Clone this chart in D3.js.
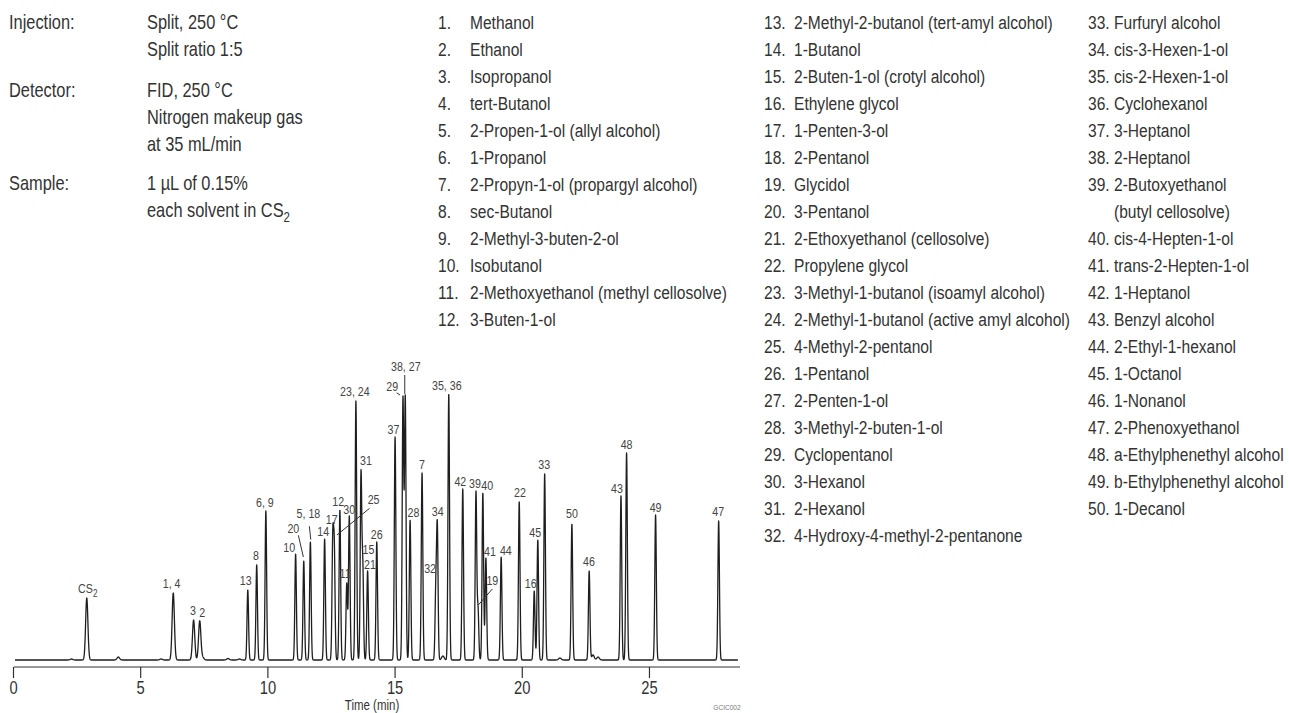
<!DOCTYPE html>
<html><head><meta charset="utf-8">
<script src="https://cdn.jsdelivr.net/npm/d3@7"></script>
<style>
body{margin:0;background:#fff;}
svg{display:block;font-family:'Liberation Sans',Arial,sans-serif;}
</style></head><body>
<svg id="chart" width="1289" height="713"></svg>
<script>
// ---------------- DATA ----------------
const peakLabels = ["CS2","1, 4","3","2","13","8","6, 9","10","20","5, 18","14","17","25","12","11","30","23, 24","31","15","21","26","37","29","38, 27","28","7","32","34","35, 36","42","39","19","40","41","44","22","16","45","33","50","46","43","48","49","47"];
const peakTimes  = [2.90,6.30,7.10,7.34,9.23,9.58,9.94,11.11,11.43,11.69,12.25,12.57,12.63,12.85,13.12,13.22,13.48,13.68,13.75,13.94,14.30,15.02,15.33,15.42,15.61,16.08,16.62,16.68,17.13,17.68,18.20,18.28,18.47,18.59,19.19,19.90,20.49,20.63,20.90,21.97,22.65,23.90,24.12,25.26,27.74];
const peakHeights= [62,67,40,39,70,95,149,106,99,118,121,131,122,150,77,144,259,190,103,89,118,223,264,265,140,187,83,139,266,171,169,55,167,102,103,158,69,120,186,136,89,164,207,145,139];
const minorTimes   = [2.3,4.14,5.82,7.45,8.45,8.9,16.9,21.5,22.8,23.0];
const minorHeights = [1,3,1,3,1.5,1,4,2,5,3];
const xTicks = [0,5,10,15,20,25];
const compoundNames = ["Methanol","Ethanol","Isopropanol","tert-Butanol","2-Propen-1-ol (allyl alcohol)","1-Propanol","2-Propyn-1-ol (propargyl alcohol)","sec-Butanol","2-Methyl-3-buten-2-ol","Isobutanol","2-Methoxyethanol (methyl cellosolve)","3-Buten-1-ol","2-Methyl-2-butanol (tert-amyl alcohol)","1-Butanol","2-Buten-1-ol (crotyl alcohol)","Ethylene glycol","1-Penten-3-ol","2-Pentanol","Glycidol","3-Pentanol","2-Ethoxyethanol (cellosolve)","Propylene glycol","3-Methyl-1-butanol (isoamyl alcohol)","2-Methyl-1-butanol (active amyl alcohol)","4-Methyl-2-pentanol","1-Pentanol","2-Penten-1-ol","3-Methyl-2-buten-1-ol","Cyclopentanol","3-Hexanol","2-Hexanol","4-Hydroxy-4-methyl-2-pentanone","Furfuryl alcohol","cis-3-Hexen-1-ol","cis-2-Hexen-1-ol","Cyclohexanol","3-Heptanol","2-Heptanol","2-Butoxyethanol\n(butyl cellosolve)","cis-4-Hepten-1-ol","trans-2-Hepten-1-ol","1-Heptanol","Benzyl alcohol","2-Ethyl-1-hexanol","1-Octanol","1-Nonanol","2-Phenoxyethanol","a-Ethylphenethyl alcohol","b-Ethylphenethyl alcohol","1-Decanol"];
const conditionKeys = ["Injection:","Detector:","Sample:"];
const conditionValues = [["Split, 250 °C","Split ratio 1:5"],["FID, 250 °C","Nitrogen makeup gas","at 35 mL/min"],["1 µL of 0.15%","each solvent in CS|2"]];
const xTitle = "Time (min)";
const figCode = "GCIC002";

// ---------------- LAYOUT ----------------
const NARROW = 0.82;
const x = d3.scaleLinear().domain([0,28.5]).range([13,738]);
const y = d3.scaleLinear().domain([0,300]).range([660,360]);
const axisY = 667;
const labelLayout = {
 "CS2":[1,-10],"1, 4":[-1.6,-9.3],"3":[-0.6,-10],"2":[2.5,-8.7],"13":[-2,-9.3],"8":[-0.7,-10],"6, 9":[-1,-9],
 "10":[-6.4,-7],"20":[-10.4,-32.4,-5.4,-25.7,-0.4,-4],"5, 18":[-2,-29,-1,-15.7,0.4,-2.4],"14":[-1.4,-7.3],"17":[-1,-9.3],
 "25":[39.3,-38.7,35.3,-29.7,2.7,-3],"12":[-1.7,-8.3],"11":[-1.7,-9.4],"30":[0,-6.7],"23, 24":[-1,-9.3],"31":[5,-9.3],
 "15":[5.6,-7.4],"21":[2.3,-6.7],"26":[0,-7.4],"37":[-1.7,-7.7],"29":[-10.7,-9.3,-6.3,-3.2,-3,-1],"38, 27":[0.5,-29,-0.5,-20,-0.5,-1],
 "28":[3.3,-7.3],"7":[0,-8.3],"32":[-5.7,-8.4],"34":[0.4,-9.3],"35, 36":[-2,-8.3],"42":[-2.4,-7.6],"39":[-1,-8],
 "19":[14.3,-24.3,14.3,-16,0.3,0],"40":[4.3,-7.7],"41":[4,-6.6],"44":[4.7,-6.7],"22":[0.7,-10],"16":[-3.6,-8],
 "45":[-2.5,-7.3],"33":[-0.4,-9.7],"50":[0,-11],"46":[-0.3,-9.3],"43":[-4,-7.7],"48":[0,-8.7],"49":[0,-7.3],"47":[-0.4,-9.3]
};

const svg = d3.select("#chart");
function ntext(parent,tx,ty,anchor){
  return parent.append("text").attr("transform",`translate(${tx},${ty}) scale(${NARROW},1)`).attr("text-anchor",anchor||"start");
}

// ---------------- TRACE ----------------
const sig = t => t<8 ? 0.045 : 0.03;
const g = (t,c,s)=>Math.exp(-0.5*((t-c)/s)**2);
let amps = peakHeights.slice();
for(let it=0; it<40; it++){
  const sums = peakTimes.map((tc)=>peakTimes.reduce((a,c,j)=>a+amps[j]*g(tc,c,sig(c)),0));
  amps = amps.map((a,i)=>Math.max(1,a+0.7*(peakHeights[i]-sums[i])));
}
const allT = peakTimes.concat(minorTimes), allA = amps.concat(minorHeights);
function signal(t){
  let v=0;
  for(let j=0;j<allT.length;j++){const s= j<peakTimes.length?sig(allT[j]):0.05; const d=(t-allT[j])/s; if(Math.abs(d)<8) v+=allA[j]*Math.exp(-0.5*d*d);}
  return v;
}
const pts=d3.range(0.08,28.5,0.004).map(t=>[t,signal(t)]);
svg.append("path").datum(pts)
  .attr("d",d3.line().x(d=>x(d[0])).y(d=>y(d[1])))
  .attr("fill","none").attr("stroke","#1e1e1e").attr("stroke-width",1.3).attr("stroke-linejoin","round");

// ---------------- AXIS ----------------
const axis = d3.axisBottom(x).tickValues(xTicks).tickSize(11).tickSizeOuter(0).tickPadding(3);
const ax = svg.append("g").attr("transform",`translate(0,${axisY})`).call(axis);
ax.select(".domain").attr("stroke","#333").attr("stroke-width",1.2).attr("d",`M${x(0)+1},0H740`);
ax.selectAll(".tick line").attr("stroke","#333").attr("stroke-width",1.2);
ax.selectAll(".tick text").attr("fill","#333").attr("transform",`scale(${NARROW},1)`)
  .style("font-size","18px").style("font-family","'Liberation Sans',Arial,sans-serif");
ntext(svg,372,710,"middle").attr("fill","#333").style("font-size","14px").text(xTitle);
ntext(svg,727,710,"middle").attr("fill","#777").style("font-size","8px").text(figCode);

// ---------------- PEAK LABELS ----------------
const lab = svg.append("g").attr("fill","#444").style("font-size","13px");
peakLabels.forEach((L,i)=>{
  const px=x(peakTimes[i]), py=y(signal(peakTimes[i]));
  const o=labelLayout[L]||[0,-9];
  const t=ntext(lab,px+o[0],py+o[1]+4.7,"middle");
  if(L==="CS2"){t.append("tspan").text("CS");t.append("tspan").attr("dy",4).style("font-size","10px").text("2");}
  else t.text(L);
  if(o.length>2) svg.append("line").attr("x1",px+o[2]).attr("y1",py+o[3]).attr("x2",px+o[4]).attr("y2",py+o[5]).attr("stroke","#333").attr("stroke-width",1);
});

// ---------------- CONDITIONS ----------------
const cond = svg.append("g").attr("fill","#333").style("font-size","20px");
const rowY=[29,97,190], lineH=27;
conditionKeys.forEach((k,i)=>{
  ntext(cond,9,rowY[i]).text(k);
  conditionValues[i].forEach((v,j)=>{
    const t=ntext(cond,147,rowY[i]+j*lineH);
    if(v.includes("|")){const p=v.split("|");t.append("tspan").text(p[0]);t.append("tspan").attr("dy",5).style("font-size","14px").text(p[1]);}
    else t.text(v);
  });
});

// ---------------- COMPOUND LIST ----------------
const list = svg.append("g").attr("fill","#333").style("font-size","19px");
const cols=[{start:0,end:12,nx:438,tx:470},{start:12,end:32,nx:764,tx:794},{start:32,end:50,nx:1088,tx:1114}];
const rowH=27, top0=29;
cols.forEach(c=>{
  let r=0;
  for(let i=c.start;i<c.end;i++){
    const yy=top0+r*rowH;
    ntext(list,c.nx,yy).text((i+1)+".");
    const parts=compoundNames[i].split("\n");
    parts.forEach((p,k)=>{ntext(list,c.tx,yy+k*rowH).text(p);});
    r+=parts.length;
  }
});
</script></body></html>
